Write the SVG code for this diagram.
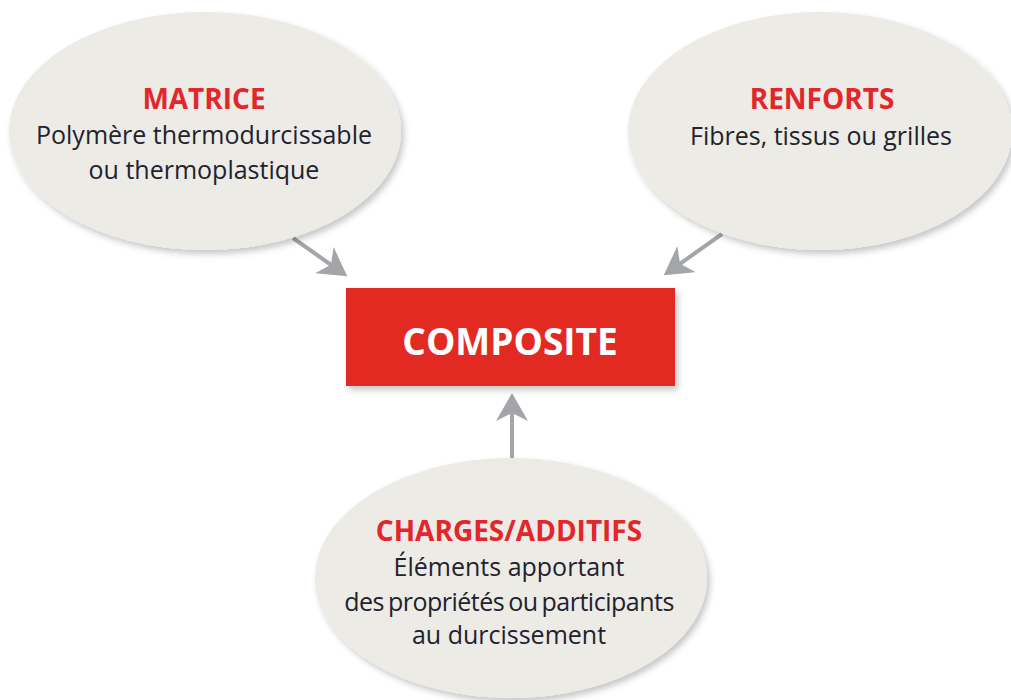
<svg xmlns="http://www.w3.org/2000/svg" width="1011" height="700" viewBox="0 0 1011 700">
<defs>
<filter id="sh" x="-20%" y="-20%" width="150%" height="150%">
<feDropShadow dx="3" dy="4" stdDeviation="3" flood-color="#000" flood-opacity="0.22"/>
</filter>
<marker id="ah" markerWidth="8" markerHeight="8" refX="6" refY="4" orient="auto" markerUnits="strokeWidth" viewBox="0 0 8 8">
<path d="M0,0 L7,4 L0,8 L2,4 Z" fill="#a3a5a8"/>
</marker>
<style>
.bub{fill:#ecebe5;filter:url(#sh)}
.t{font-family:"Open Sans","Liberation Sans",sans-serif;text-anchor:middle}
.h{font-weight:bold;fill:#e3262b;font-size:28px}
.b{fill:#22222e;font-size:25px}
.c{stroke:#a3a5a8;stroke-width:4;fill:none;marker-end:url(#ah)}
</style>
</defs>
<g id="connectors">
<line class="c" x1="293" y1="238" x2="344" y2="274"/>
<line class="c" x1="722" y1="234" x2="667" y2="273"/>
<line class="c" x1="512" y1="460" x2="512" y2="397"/>
</g>
<g id="matrice">
<ellipse class="bub" cx="205" cy="131" rx="196" ry="119"/>
<text class="t h" x="204" y="109">MATRICE</text>
<text class="t b" x="204" y="144">Polymère thermodurcissable</text>
<text class="t b" x="204" y="179">ou thermoplastique</text>
</g>
<g id="renforts">
<ellipse class="bub" cx="820" cy="131" rx="192" ry="119"/>
<text class="t h" x="822" y="109">RENFORTS</text>
<text class="t b" x="821" y="145">Fibres, tissus ou grilles</text>
</g>
<g id="composite">
<rect x="346" y="288" width="329" height="98" fill="#e32a24" filter="url(#sh)"/>
<text class="t" x="510" y="355" fill="#fff" font-weight="bold" font-size="37">COMPOSITE</text>
</g>
<g id="charges">
<ellipse class="bub" cx="511" cy="578" rx="196" ry="120"/>
<text class="t h" x="509" y="541">CHARGES/ADDITIFS</text>
<text class="t b" x="509" y="576">Éléments apportant</text>
<text class="t b" x="509" y="611" letter-spacing="-0.5" word-spacing="-2">des propriétés ou participants</text>
<text class="t b" x="509" y="644">au durcissement</text>
</g>
</svg>
